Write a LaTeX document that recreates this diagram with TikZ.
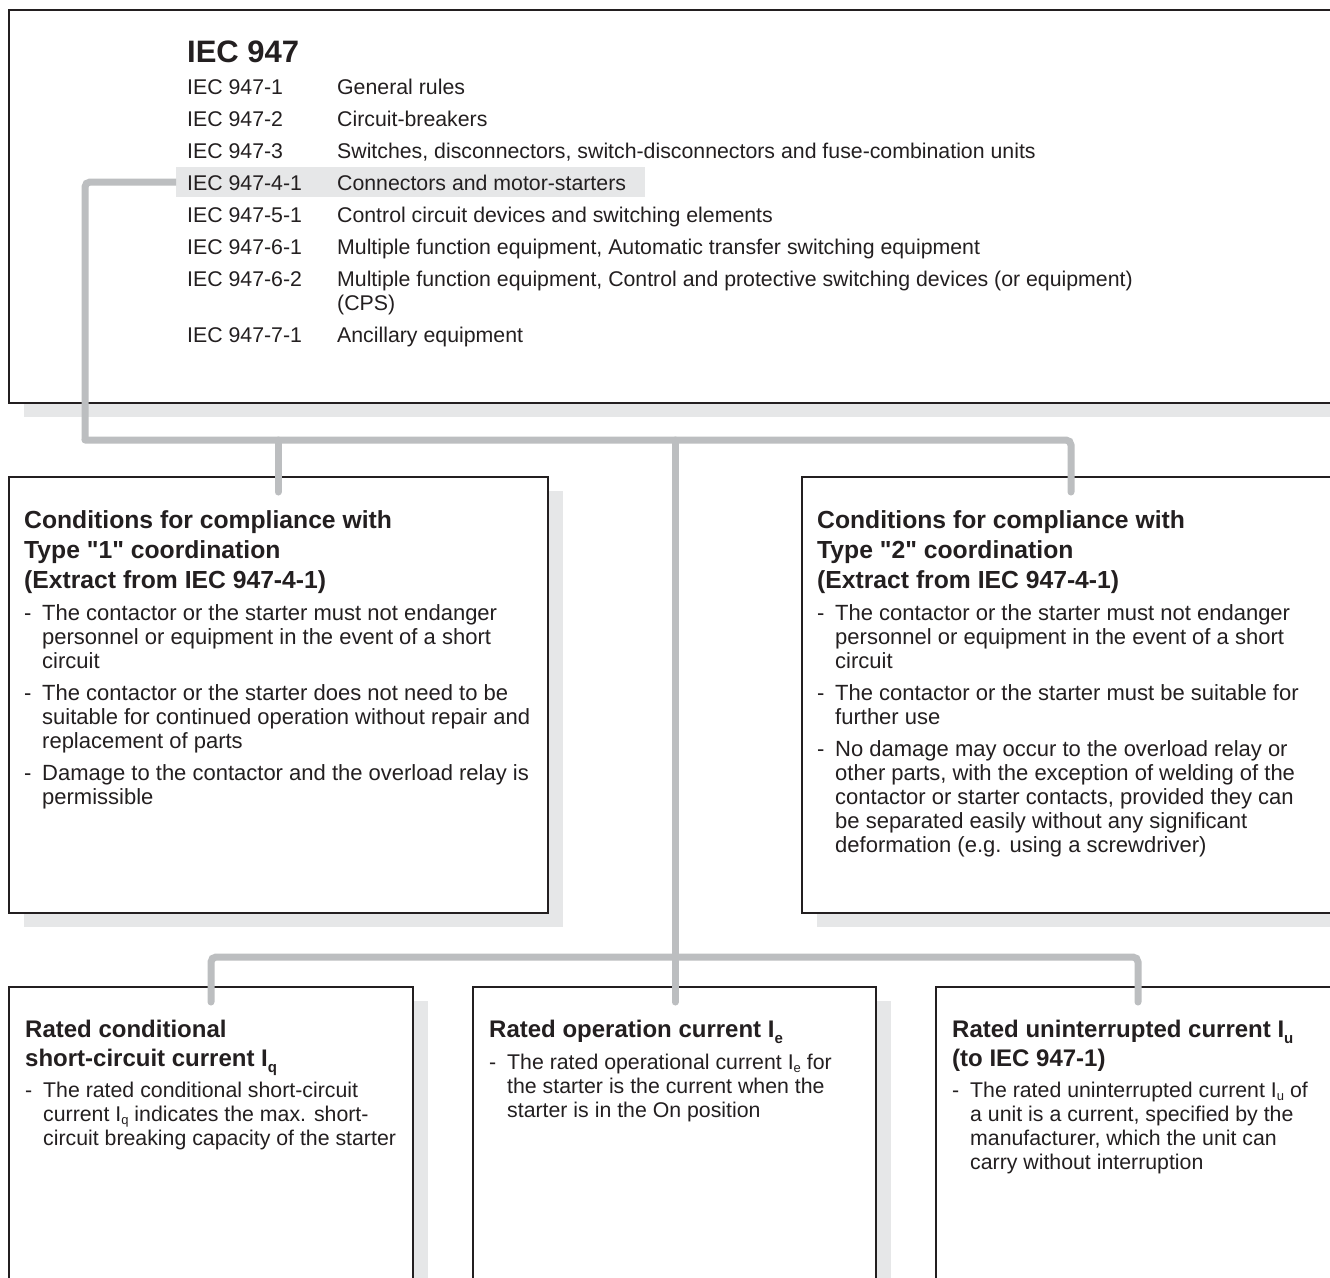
\documentclass[tikz,border=0pt]{standalone}
\usepackage{fontspec}
\setmainfont{Liberation Sans}[Ligatures=TeXOff]
\usetikzlibrary{shadows}
\definecolor{connc}{HTML}{BCBEC0}
\definecolor{shadc}{HTML}{E6E7E8}
\definecolor{linec}{HTML}{231F20}
\newcommand\listblock[1]{\vtop{\halign{\hbox to 150pt{##\hfil}&##\hfil\cr#1\crcr}}}
\newcommand\bulblock[1]{\vtop{\halign{\hbox to 18pt{##\hfil}&##\hfil\cr#1\crcr}}}
\newcommand\titleblock[1]{\vtop{\halign{##\hfil\cr#1\crcr}}}
\newcommand\itemgap{\noalign{\vskip8pt}}
\newcommand\tsub[1]{\raisebox{-6pt}{\fontsize{15}{15}\selectfont #1}}
\newcommand\bsub[1]{\raisebox{-3pt}{\fontsize{13}{13}\selectfont #1}}
\begin{document}
\begin{tikzpicture}[x=1pt,y=-1pt,
  box/.style={draw=linec, line width=1.8pt, fill=white,
    general shadow={fill=shadc, shadow xshift=15pt, shadow yshift=-14pt},
    anchor=north west, inner sep=0pt, outer sep=0pt},
  connector/.style={draw=connc, line width=7pt, line cap=round, rounded corners=5pt},
  txt/.style={anchor=base west, inner sep=0pt, text=linec, font=\fontsize{21.3}{24}\selectfont},
  bigtxt/.style={txt, font=\fontsize{22}{24}\selectfont},
  ttl/.style={anchor=base west, inner sep=0pt, text=linec, font=\bfseries\fontsize{24}{29}\selectfont},
  bigttl/.style={ttl, font=\bfseries\fontsize{24.7}{30}\selectfont},
  hlbox/.style={fill=shadc, anchor=north west, inner sep=0pt, outer sep=0pt}]
\useasboundingbox (0,0) rectangle (1330,1277);
\clip (0,0) rectangle (1330,1277);
\fill[white] (0,0) rectangle (1330,1277);

% boxes
\node[box, minimum width=1340pt, minimum height=393pt] (top) at (9,10) {};
\node[box, minimum width=539pt, minimum height=436pt] (c1) at (9,477) {};
\node[box, minimum width=539pt, minimum height=436pt] (c2) at (802,477) {};
\node[box, minimum width=404pt, minimum height=340pt] (r1) at (9,987) {};
\node[box, minimum width=403pt, minimum height=340pt] (r2) at (473,987) {};
\node[box, minimum width=404pt, minimum height=340pt] (r3) at (936,987) {};

% highlight
\node[hlbox, minimum width=469pt, minimum height=30pt] (hl) at (176,167) {};

% connector points
\coordinate (jL) at (85,440);
\coordinate (jC) at (675,440);
\coordinate (jB) at (675,957);
\coordinate (e1) at (278,492);
\coordinate (e2) at (1071,492);
\coordinate (e3) at (211,1002);
\coordinate (e4) at (675,1002);
\coordinate (e5) at (1138,1002);

\draw[connector, line cap=butt] (hl.west) -| (jL);
\draw[connector] (jL) -| (e2);
\draw[connector] (jL -| e1) -- (e1);
\draw[connector] (jC) -- (e4);
\draw[connector] (e3) |- (jB) -| (e5);

% top box text
\node[ttl, font=\bfseries\fontsize{31}{36}\selectfont] (hdr) at (187,62) {IEC 947};
\node[txt] (list) at (187,94) {\listblock{%
IEC 947-1&General rules\cr\itemgap
IEC 947-2&Circuit-breakers\cr\itemgap
IEC 947-3&Switches, disconnectors, switch-disconnectors and fuse-combination units\cr\itemgap
IEC 947-4-1&Connectors and motor-starters\cr\itemgap
IEC 947-5-1&Control circuit devices and switching elements\cr\itemgap
IEC 947-6-1&Multiple function equipment, Automatic transfer switching equipment\cr\itemgap
IEC 947-6-2&Multiple function equipment, Control and protective switching devices (or equipment)\cr
&(CPS)\cr\itemgap
IEC 947-7-1&Ancillary equipment}};

% type 1
\node[bigttl] (c1t) at (24,528) {\titleblock{Conditions for compliance with\cr
Type "1" coordination\cr (Extract from IEC 947-4-1)}};
\node[bigtxt] (c1b) at (24,620) {\bulblock{%
-&The contactor or the starter must not endanger\cr
&personnel or equipment in the event of a short\cr
&circuit\cr\itemgap
-&The contactor or the starter does not need to be\cr
&suitable for continued operation without repair and\cr
&replacement of parts\cr\itemgap
-&Damage to the contactor and the overload relay is\cr
&permissible}};

% type 2
\node[bigttl] (c2t) at (817,528) {\titleblock{Conditions for compliance with\cr
Type "2" coordination\cr (Extract from IEC 947-4-1)}};
\node[bigtxt] (c2b) at (817,620) {\bulblock{%
-&The contactor or the starter must not endanger\cr
&personnel or equipment in the event of a short\cr
&circuit\cr\itemgap
-&The contactor or the starter must be suitable for\cr
&further use\cr\itemgap
-&No damage may occur to the overload relay or\cr
&other parts, with the exception of welding of the\cr
&contactor or starter contacts, provided they can\cr
&be separated easily without any significant\cr
&deformation (e.g. using a screwdriver)}};

% bottom row
\node[ttl] (r1t) at (25,1037) {\titleblock{Rated conditional\cr
short-circuit current I\tsub{q}}};
\node[txt] (r1b) at (25,1097) {\bulblock{%
-&The rated conditional short-circuit\cr
&current I\bsub{q} indicates the max. short-\cr
&circuit breaking capacity of the starter}};

\node[ttl] (r2t) at (489,1037) {\titleblock{Rated operation current I\tsub{e}}};
\node[txt] (r2b) at (489,1069) {\bulblock{%
-&The rated operational current I\bsub{e} for\cr
&the starter is the current when the\cr
&starter is in the On position}};

\node[ttl] (r3t) at (952,1037) {\titleblock{Rated uninterrupted current I\tsub{u}\cr
(to IEC 947-1)}};
\node[txt] (r3b) at (952,1097) {\bulblock{%
-&The rated uninterrupted current I\bsub{u} of\cr
&a unit is a current, specified by the\cr
&manufacturer, which the unit can\cr
&carry without interruption}};
\end{tikzpicture}
\end{document}
